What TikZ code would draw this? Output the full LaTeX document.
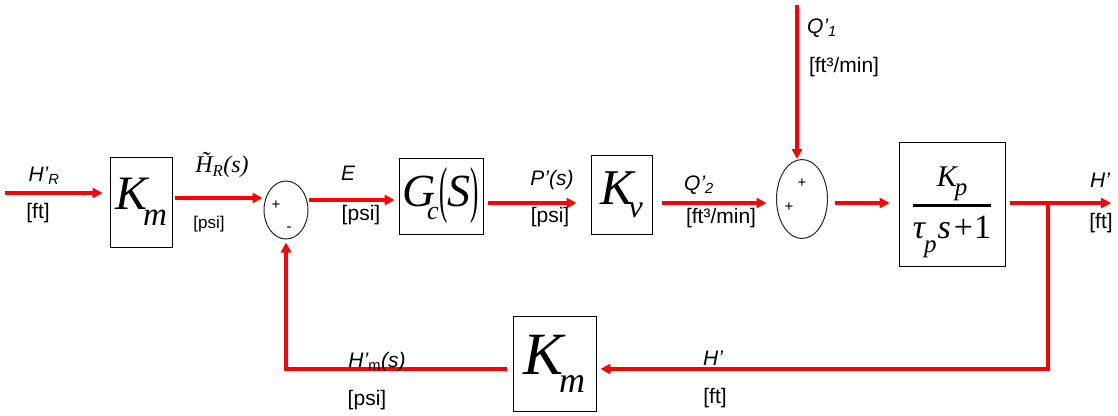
\documentclass[tikz,border=0pt]{standalone}
\usepackage{fontspec}
\setmainfont{Liberation Sans}
\newfontfamily\tms{Liberation Serif}
\usetikzlibrary{shapes.geometric,arrows.meta,calc}
\begin{document}
\begin{tikzpicture}[x=1pt,y=-1pt,
 sig/.style={draw=red,line width=3.2pt,-{Triangle[length=10pt,width=10pt]}},
 blk/.style={draw=black,line width=0.9pt,inner sep=0pt,font=\tms\itshape},
 sumj/.style={draw=black!85,line width=1pt,ellipse,inner sep=0pt},
 lbl/.style={font=\fontsize{21}{21}\selectfont,inner sep=0pt},
 sml/.style={font=\fontsize{17}{17}\selectfont,inner sep=0pt},
 sgn/.style={font=\fontsize{15}{15}\selectfont,inner sep=0pt}]
\useasboundingbox[fill=white] (0,0) rectangle (1118,415);
% blocks
\node[blk,minimum width=62pt,minimum height=90pt] (km1) at (141,202)
  {\fontsize{48}{48}\selectfont K\kern-4pt\raisebox{-16pt}{\fontsize{33}{33}\selectfont m}};
\node[sumj,minimum width=44pt,minimum height=58pt] (sum1) at (286,210) {};
\node[blk,minimum width=84pt,minimum height=76pt] (gc) at (441,196)
  {\fontsize{46}{46}\selectfont G\kern-9pt\raisebox{-13pt}{\fontsize{26}{26}\selectfont c}\kern1pt\raisebox{-4pt}{\scalebox{0.4}[1]{\fontsize{62}{62}\selectfont\upshape (}}S\raisebox{-4pt}{\scalebox{0.4}[1]{\fontsize{62}{62}\selectfont\upshape )}}};
\node[blk,minimum width=61pt,minimum height=79pt] (kv) at (621.5,194.5)
  {\fontsize{50}{50}\selectfont K\kern-5pt\raisebox{-13pt}{\fontsize{32}{32}\selectfont v}};
\node[sumj,minimum width=51pt,minimum height=79pt] (sum2) at (802,199) {};
\node[blk,minimum width=106pt,minimum height=124pt] (kp) at (952,204)
  {\vbox{\kern16pt\halign{\hfil#\hfil\cr
   \fontsize{30}{30}\selectfont K\kern-2pt\raisebox{-9pt}{\fontsize{25}{25}\selectfont p}\cr
   \noalign{\kern3pt\hrule height 3pt\kern9pt}
   \fontsize{34}{34}\selectfont τ\kern-1pt\raisebox{-14pt}{\fontsize{25}{25}\selectfont p}\kern1pt s\kern3pt{\upshape +\kern1pt 1}\cr}}};
\node[blk,minimum width=83pt,minimum height=95pt] (km2) at (554.5,363.5)
  {\fontsize{60}{60}\selectfont K\kern-5pt\raisebox{-18pt}{\fontsize{36}{36}\selectfont m}};
% coordinates
\coordinate (in) at (5,193);
\coordinate (q1) at (797,5);
\coordinate (out) at (1111,203);
\coordinate (br) at (1048,203);
\coordinate (bc) at (1048,369);
% connectors
\draw[sig] (in) -- ($(km1.west |- in)+(-7,0)$);
\draw[sig] ($(km1.east)+(3,-4)$) -- ($(km1.east -| sum1.west)+(-1,-4)$);
\draw[sig] ($(sum1.east)+(0,-10)$) -- ($(gc.west)+(-4,4)$);
\draw[sig] ($(gc.east)+(5,7)$) -- ($(kv.west)+(-14,8.5)$);
\draw[sig] ($(kv.east)+(10,8.5)$) -- ($(sum2.west)+(-9.5,4)$);
\draw[sig] (q1) -- (q1 |- sum2.north);
\draw[sig] ($(sum2.east)+(6.5,4)$) -- ($(kp.west)+(-9,-1)$);
\draw[sig] ($(kp.east)+(5,-1)$) -- (out);
\draw[sig] (br) -- (bc) -- ($(bc -| km2.east)+(4,0)$);
\draw[sig] ($(bc -| km2.west)+(-6,0)$) -- (bc -| sum1.south) -- ($(sum1.south)+(0,3)$);
% labels
\node[lbl] (lHR) at (44,176) {\itshape H’\textsubscript{R}};
\node[lbl] (lft1) at (38,213) {[ft]};
\node[font=\tms\itshape\fontsize{24}{24}\selectfont,inner sep=0pt] (lHt) at (222,165) {\~{H}\textsubscript{R}(s)};
\node[sml] (lpsi1) at (209,224) {[psi]};
\node[sgn] (p1) at (276,205) {+};
\node[sgn] (m1) at (289,229) {-};
\node[lbl] (lE) at (348,173) {\itshape E};
\node[lbl] (lpsi2) at (361,215) {[psi]};
\node[lbl] (lP) at (552,180) {\itshape P’(s)};
\node[lbl] (lpsi3) at (550,217) {[psi]};
\node[lbl] (lQ2) at (699,185) {\itshape Q’\textsubscript{2}};
\node[lbl] (lfm2) at (721,218) {[ft³/min]};
\node[lbl] (lQ1) at (822,28) {\itshape Q’\textsubscript{1}};
\node[lbl] (lfm1) at (844,67) {[ft³/min]};
\node[sgn] (p2) at (802,183) {+};
\node[sgn] (p3) at (789,207) {+};
\node[lbl] (lHo) at (1100,180) {\itshape H’};
\node[lbl] (lfto) at (1101,223) {[ft]};
\node[lbl] (lHf) at (713,358) {\itshape H’};
\node[lbl] (lftf) at (715,398) {[ft]};
\node[lbl] (lHm) at (377,362) {\itshape H’\textsubscript{\upshape m}(s)};
\node[lbl] (lpsi4) at (367,400) {[psi]};
\end{tikzpicture}
\end{document}
